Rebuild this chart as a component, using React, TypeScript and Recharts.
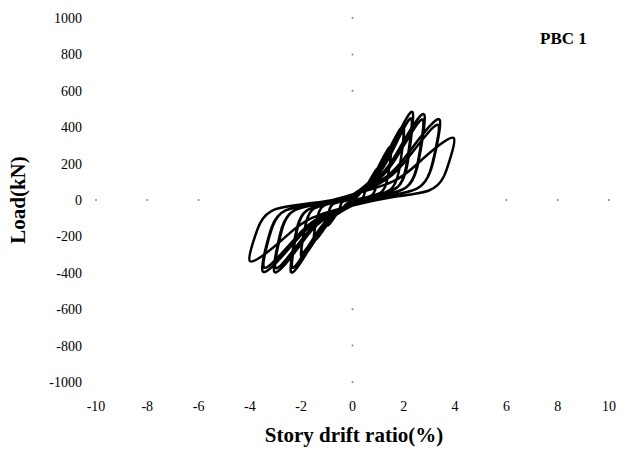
import React from 'react'
import { Line, LineChart, ReferenceDot, XAxis, YAxis } from 'recharts'

// hysteresis path, in load order (one row per cycle)
const drift = [
  0, 0.2, 0.33, 0.43, 0.5, 0.49, 0.45, 0.38, 0.2, 0, -0.2, -0.33, -0.43, -0.5, -0.49, -0.45, -0.38, -0.2,
  0, 0.4, 0.65, 0.85, 1.0, 0.97, 0.9, 0.75, 0.4, 0, -0.4, -0.65, -0.85, -1.0, -0.97, -0.9, -0.75, -0.4,
  0, 0.6, 0.98, 1.28, 1.5, 1.46, 1.35, 1.13, 0.6, 0, -0.6, -0.98, -1.28, -1.5, -1.46, -1.35, -1.13, -0.6,
  0, 0.8, 1.3, 1.7, 2.0, 1.94, 1.8, 1.5, 0.8, 0, -0.8, -1.3, -1.7, -2.0, -1.94, -1.8, -1.5, -0.8,
  0, 0.8, 1.3, 1.7, 1.98, 1.92, 1.78, 1.48, 0.8, 0, -0.8, -1.3, -1.7, -1.98, -1.92, -1.78, -1.48, -0.8,
  0, 0.94, 1.53, 2.0, 2.35, 2.28, 2.12, 1.76, 0.94, 0, -0.96, -1.56, -2.04, -2.4, -2.33, -2.16, -1.8, -0.96,
  0, 0.92, 1.5, 1.96, 2.3, 2.23, 2.07, 1.73, 0.92, 0, -0.94, -1.53, -2.0, -2.35, -2.28, -2.12, -1.76, -0.94,
  0, 1.12, 1.82, 2.38, 2.8, 2.72, 2.52, 2.1, 1.12, 0, -1.22, -1.98, -2.59, -3.05, -2.96, -2.75, -2.29, -1.22,
  0, 1.1, 1.79, 2.34, 2.75, 2.67, 2.48, 2.06, 1.1, 0, -1.2, -1.95, -2.55, -3.0, -2.91, -2.7, -2.25, -1.2,
  0, 1.36, 2.21, 2.89, 3.4, 3.3, 3.06, 2.55, 1.36, 0, -1.4, -2.28, -2.98, -3.5, -3.4, -3.15, -2.63, -1.4,
  0, 1.34, 2.18, 2.85, 3.35, 3.25, 3.02, 2.51, 1.34, 0, -1.38, -2.24, -2.93, -3.45, -3.35, -3.1, -2.59, -1.38,
  0, 1.58, 2.57, 3.36, 3.95, 3.83, 3.56, 2.96, 1.58, 0, -1.6, -2.6, -3.4, -4.0, -3.88, -3.6, -3.0, -1.6, 0,
]
const load = [
  0, 21, 42, 62, 70, 49, 27, 11, 4, -8, -18, -36, -53, -60, -42, -23, -9, -3,
  8, 51, 102, 150, 170, 119, 65, 26, 9, -15, -42, -84, -123, -140, -98, -53, -21, -7,
  15, 87, 174, 255, 290, 203, 110, 44, 15, -22, -66, -132, -194, -220, -154, -84, -33, -11,
  22, 120, 240, 352, 400, 280, 152, 60, 20, -28, -93, -186, -273, -310, -217, -118, -47, -16,
  28, 104, 211, 318, 370, 259, 141, 56, 19, -28, -81, -165, -249, -290, -203, -110, -44, -15,
  28, 144, 288, 422, 480, 336, 182, 72, 24, -30, -119, -237, -348, -395, -277, -150, -59, -20,
  28, 125, 254, 383, 445, 312, 169, 67, 22, -28, -104, -211, -318, -370, -259, -141, -56, -19,
  30, 140, 281, 412, 468, 328, 178, 70, 23, -30, -118, -236, -347, -394, -276, -150, -59, -20,
  28, 123, 251, 378, 440, 308, 167, 66, 22, -28, -104, -212, -320, -372, -260, -141, -56, -19,
  30, 132, 264, 387, 440, 308, 167, 66, 22, -30, -118, -235, -345, -392, -274, -149, -59, -20,
  28, 115, 234, 353, 410, 287, 156, 62, 21, -28, -104, -211, -318, -370, -259, -141, -56, -19,
  30, 102, 204, 299, 340, 238, 129, 51, 17, -30, -100, -201, -295, -335, -234, -127, -50, -17, 20,
]

const xTicks = [-10, -8, -6, -4, -2, 0, 2, 4, 6, 8, 10]
const yTicks = [-1000, -800, -600, -400, -200, 0, 200, 400, 600, 800, 1000]

const data = drift.map((d, i) => ({ drift: d, load: load[i] }))

const serif = '"Liberation Serif", "Times New Roman", serif'

const XTick = (props: any) => (
  <text x={props.x} y={props.y} dy="0.71em" textAnchor="middle" fill="#000" fontFamily={serif} fontSize={14}>
    {props.payload.value}
  </text>
)

const YTick = (props: any) => (
  <text x={props.x} y={props.y} dy="0.355em" textAnchor="end" fill="#000" fontFamily={serif} fontSize={14}>
    {props.payload.value}
  </text>
)

export default function App() {
  return (
    <div style={{ position: 'absolute', left: 0, top: 0, width: 629, height: 453, background: '#fff', fontFamily: serif }}>
      <LineChart width={629} height={453} data={data} margin={{ top: 18, right: 20, left: 0, bottom: 0 }}>
        <XAxis
          dataKey="drift"
          type="number"
          domain={[-10, 10]}
          ticks={xTicks}
          axisLine={false}
          tickLine={false}
          tickMargin={13}
          height={71}
          tick={XTick}
          interval={0}
        />
        <YAxis
          type="number"
          domain={[-1000, 1000]}
          ticks={yTicks}
          axisLine={false}
          tickLine={false}
          tickMargin={8}
          width={96}
          tick={YTick}
          interval={0}
        />
        {/* faint tick specks where the hidden axes cross the origin */}
        {xTicks.filter((t) => Math.abs(t) > 4).map((t) => (
          <ReferenceDot key={'x' + t} x={t} y={0} r={1} fill="#888" stroke="none" />
        ))}
        {yTicks.filter((t) => Math.abs(t) > 400).map((t) => (
          <ReferenceDot key={'y' + t} x={0} y={t} r={1} fill="#888" stroke="none" />
        ))}
        <Line
          type="natural"
          dataKey="load"
          stroke="#000"
          strokeWidth={2.5}
          dot={false}
          isAnimationActive={false}
        />
      </LineChart>
      <div style={{ position: 'absolute', left: 540, top: 29, fontWeight: 'bold', fontSize: 17, whiteSpace: 'nowrap' }}>
        PBC 1
      </div>
      <div style={{ position: 'absolute', left: 0, width: 708, top: 423, textAlign: 'center', fontWeight: 'bold', fontSize: 21, whiteSpace: 'nowrap' }}>
        Story drift ratio(%)
      </div>
      <div
        style={{
          position: 'absolute',
          left: 18,
          top: 200,
          transform: 'translate(-50%, -50%) rotate(-90deg)',
          fontWeight: 'bold',
          fontSize: 21,
          whiteSpace: 'nowrap',
        }}
      >
        Load(kN)
      </div>
    </div>
  )
}
